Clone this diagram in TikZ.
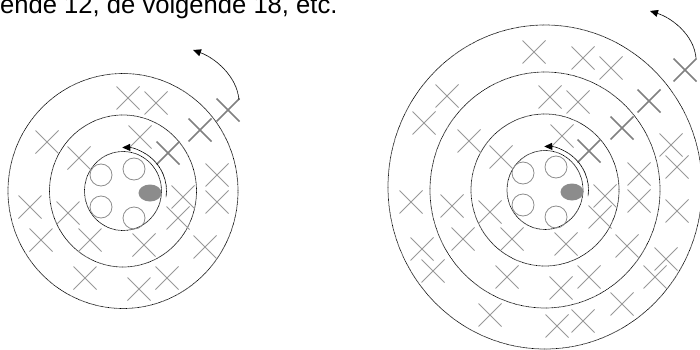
\documentclass[tikz,border=0pt]{standalone}
\usepackage{fontspec}
\setmainfont{Liberation Sans}
\usetikzlibrary{arrows.meta}

% crosses that both pictures share, relative to the centre
\newcommand{\firstcrosses}{5/-93,33/-88,-76/-49,17/-54,-44/-33,94/-16,60/6,94/11,%
  -93/16,-55/22,55/27,-82/49,-33/49,21/54,82/56,-38/87,44/87,16/98}

\begin{document}
\begin{tikzpicture}[
  x=1pt, y=-1pt,
  every node/.style={inner sep=0pt},
  ring/.style ={draw=black, line width=0.7pt, dash pattern=on 0.7pt off 0.5pt},
  slot/.style ={draw=black!45, line width=0.8pt},
  taken/.style={fill=black!45},
  light/.style={draw=black!40, line width=0.8pt},
  heavy/.style={draw=black!50, line width=1.6pt},
  turn/.style ={draw=black, line width=0.7pt, dash pattern=on 0.7pt off 0.4pt,
                -{Triangle[length=8pt,width=7pt]}}]

% a cross of 23 units with its middle at (#1,#2)
\newcommand{\bcross}[3]{\draw[#3] (#1-11.5,#2-11.5) -- ++(23,23) (#1-11.5,#2+11.5) -- ++(23,-23);}

\useasboundingbox (0,0) rectangle (700,350);

\node[anchor=base west, font=\fontsize{25.6}{30}\selectfont] (caption) at (0,13.5)
  {ende 12, de volgende 18, etc.};

% =========================  small picture  ===========================
\begin{scope}[shift={(123,191)}]
  \draw[ring] (0,0) ellipse[x radius=38.5, y radius=39.5];
  \draw[ring] (0,0) ellipse[x radius=73.5, y radius=76];
  \draw[ring] (0,0) ellipse[x radius=115, y radius=117.5];

  \foreach \x/\y in {-22/-16,11/-22,-22/16,11/27}{\draw[slot] (\x,\y) circle[radius=11];}
  \fill[taken] (27,2) ellipse[x radius=11.5, y radius=8.5];

  \foreach \x/\y in \firstcrosses{\bcross{\x}{\y}{light}}
  \foreach \x/\y in {45/-38,77/-61,105/-81}{\bcross{\x}{\y}{heavy}}

  \draw[turn] (8:43.5) arc[start angle=8, end angle=-91, radius=43.5];
  \draw[turn] (116,-91) .. controls (114,-115) and (92,-133) .. (70,-141);
\end{scope}

% =========================  large picture  ===========================
\begin{scope}[shift={(545,190)}]
  \draw[ring] (0,0) ellipse[x radius=38, y radius=39.5];
  \draw[ring] (0,0) ellipse[x radius=74, y radius=76];
  \draw[ring] (0,0) ellipse[x radius=115, y radius=118];
  \draw[ring] (0,-3) ellipse[x radius=157, y radius=162];

  \foreach \x/\y in {-22/-17,11/-23,-22/15,11/27}{\draw[slot] (\x,\y) circle[radius=11];}
  \fill[taken] (27,2) ellipse[x radius=11.5, y radius=8.5];

  \foreach \x/\y in \firstcrosses{\bcross{\x}{\y}{light}}
  \foreach \x/\y in {-11/-138,38/-132,66/-122,-98/-94,-121/-67,126/-45,132/-23,
                     -134/12,132/21,-123/59,-112/81,121/69,110/87,77/114,
                     -55/125,12/136,38/131}{\bcross{\x}{\y}{light}}
  \foreach \x/\y in {44/-39,77/-62,104/-89,140/-120}{\bcross{\x}{\y}{heavy}}

  \draw[turn] (8:43.5) arc[start angle=8, end angle=-91, radius=43.5];
  \draw[turn] (151,-132) .. controls (149,-155) and (127,-172) .. (105,-179);
\end{scope}

\end{tikzpicture}
\end{document}
